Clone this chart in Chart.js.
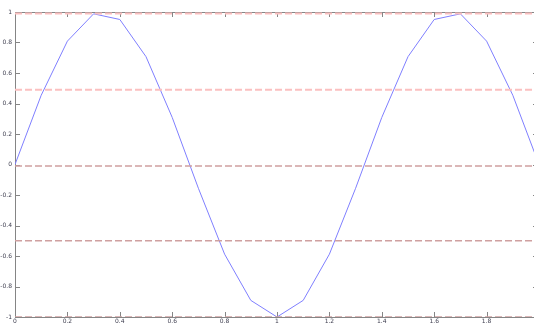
<!DOCTYPE html>
<html>
<head>
<meta charset="utf-8">
<script src="https://cdn.jsdelivr.net/npm/chart.js@4/dist/chart.umd.min.js"></script>
<style>
  html, body { margin: 0; padding: 0; background: #fff; overflow: hidden; }
  #wrap { width: 534px; height: 324px; overflow: hidden; }
  canvas { display: block; }
</style>
</head>
<body>
<div id="wrap"><canvas id="c" width="540" height="324"></canvas></div>
<script>
// Sampled wave: x positions and values
const xValues = [0, 0.1, 0.2, 0.3, 0.4, 0.5, 0.6, 0.7, 0.8, 0.9, 1.0,
                 1.1, 1.2, 1.3, 1.4, 1.5, 1.6, 1.7, 1.8, 1.9, 2.0];
const yValues = [0, 0.454, 0.809, 0.988, 0.951, 0.707, 0.309, -0.156, -0.588, -0.891, -1.0,
                 -0.891, -0.588, -0.156, 0.309, 0.707, 0.951, 0.988, 0.809, 0.454, 0];

// Horizontal reference levels
const upperLevels = [0.99, 0.49];
const lowerLevels = [-0.01, -0.5, -1.0];

// Axis ranges and tick steps
const xRange = [0, 2];
const yRange = [-1, 1];
const xStep = 0.2;
const yStep = 0.2;

const wave = xValues.map((x, i) => ({ x: x, y: yValues[i] }));
const levelLine = (v) => [{ x: xRange[0], y: v }, { x: xRange[1], y: v }];

const datasets = [];
upperLevels.forEach(v => datasets.push({
  data: levelLine(v), borderColor: '#fbc0c0', borderWidth: 2,
  borderDash: [7, 3], pointRadius: 0, fill: false
}));
lowerLevels.forEach(v => datasets.push({
  data: levelLine(v), borderColor: '#cfa0a0', borderWidth: 1.5,
  borderDash: [7, 3], pointRadius: 0, fill: false
}));
datasets.push({
  data: wave, borderColor: '#7f7fff', borderWidth: 1,
  pointRadius: 0, fill: false, tension: 0
});

// Box frame with inward tick marks on all four sides
const framePlugin = {
  id: 'frame',
  beforeDatasetsDraw(chart) {
    const { ctx, chartArea: a, scales } = chart;
    ctx.save();
    ctx.strokeStyle = '#858585';
    ctx.lineWidth = 1;
    ctx.strokeRect(Math.round(a.left) + 0.5, Math.round(a.top) + 0.5,
                   Math.round(a.right - a.left), Math.round(a.bottom - a.top));
    const len = 5;
    ctx.beginPath();
    scales.x.ticks.forEach(t => {
      const px = Math.round(scales.x.getPixelForValue(t.value)) + 0.5;
      ctx.moveTo(px, a.top); ctx.lineTo(px, a.top + len);
      ctx.moveTo(px, a.bottom); ctx.lineTo(px, a.bottom - len);
    });
    scales.y.ticks.forEach(t => {
      const py = Math.round(scales.y.getPixelForValue(t.value)) + 0.5;
      ctx.moveTo(a.left, py); ctx.lineTo(a.left + len, py);
      ctx.moveTo(a.right, py); ctx.lineTo(a.right - len - 1, py);
    });
    ctx.stroke();
    ctx.restore();
  }
};

const tickFont = { family: 'DejaVu Sans', size: 6 };

new Chart(document.getElementById('c'), {
  type: 'line',
  data: { datasets: datasets },
  options: {
    responsive: false,
    animation: false,
    devicePixelRatio: 1,
    layout: { padding: { top: 12, right: 0, left: 0, bottom: 0 } },
    plugins: { legend: { display: false }, tooltip: { enabled: false } },
    scales: {
      x: {
        type: 'linear', min: xRange[0], max: xRange[1],
        grid: { display: false, drawTicks: false },
        border: { display: false },
        ticks: { stepSize: xStep, includeBounds: false, font: tickFont,
                 color: '#3f3f50', padding: 1, maxRotation: 0, autoSkip: false,
                 callback: v => (v >= 1.99 ? '' : String(Math.round(v * 10) / 10)) },
        afterFit: s => { s.height = 7; }
      },
      y: {
        min: yRange[0], max: yRange[1],
        grid: { display: false, drawTicks: false },
        border: { display: false },
        ticks: { stepSize: yStep, font: tickFont, color: '#3f3f50', padding: 3,
                 callback: v => String(Math.round(v * 10) / 10) },
        afterFit: s => { s.width = 15; }
      }
    }
  },
  plugins: [framePlugin]
});
</script>
</body>
</html>
